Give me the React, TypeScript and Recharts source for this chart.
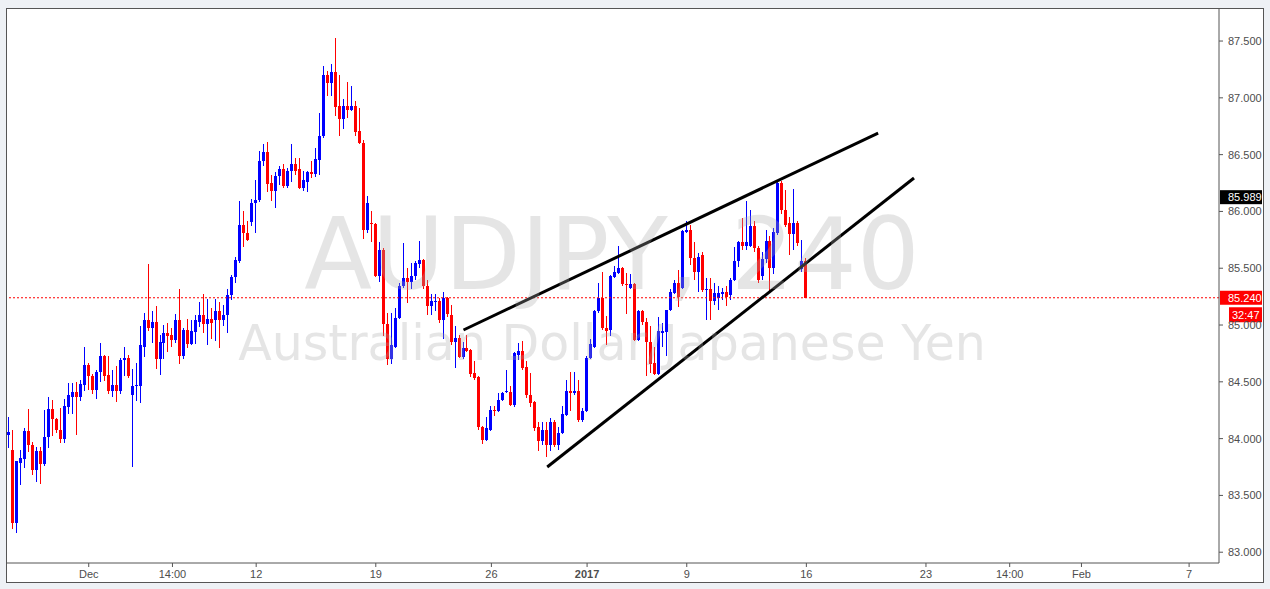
import React from 'react'
import { ComposedChart, Bar, XAxis, YAxis, ReferenceLine } from 'recharts'

// AUDJPY 4h candles, oldest first
const opens = [
  84.03, 83.90, 83.26, 83.785, 83.82, 84.07, 83.94, 83.72, 83.89, 83.78,
  84.01, 84.26, 84.17, 84.08, 84.00, 84.28, 84.37, 84.41, 84.37, 84.47,
  84.65, 84.55, 84.43, 84.59, 84.73, 84.56, 84.42, 84.47, 84.42, 84.69,
  84.71, 84.38, 84.46, 84.46, 84.81, 85.04, 84.97, 85.03, 84.70, 84.84,
  84.93, 84.91, 84.87, 85.04, 84.73, 84.96, 84.83, 84.94, 85.03, 85.09,
  85.01, 85.05, 85.04, 85.12, 85.04, 85.09, 85.26, 85.42, 85.56, 85.88,
  85.81, 85.91, 86.07, 86.10, 86.44, 86.52, 86.25, 86.18, 86.31, 86.37,
  86.22, 86.36, 86.42, 86.37, 86.21, 86.26, 86.35, 86.33, 86.45, 86.66,
  87.20, 87.13, 87.23, 86.93, 86.81, 86.93, 86.89, 86.93, 86.71, 86.60,
  85.84, 85.90, 85.89, 85.43, 85.66, 85.01, 84.70, 84.81, 85.06, 85.34,
  85.41, 85.38, 85.43, 85.54, 85.57, 85.34, 85.17, 85.20, 85.21, 85.04,
  85.24, 85.09, 84.85, 84.89, 84.72, 84.80, 84.78, 84.58, 84.54, 84.10,
  83.99, 84.08, 84.25, 84.24, 84.34, 84.41, 84.41, 84.30, 84.74, 84.77,
  84.63, 84.38, 84.32, 84.10, 83.98, 84.08, 83.94, 84.15, 83.94, 84.05,
  84.21, 84.42, 84.40, 84.42, 84.16, 84.24, 84.71, 84.81, 85.12, 85.24,
  84.97, 84.96, 85.42, 85.46, 85.50, 85.36, 85.33, 85.36, 84.87, 85.12,
  85.03, 84.85, 84.67, 84.57, 84.93, 84.94, 85.13, 85.28, 85.37, 85.33,
  85.82, 85.84, 85.59, 85.47, 85.62, 85.31, 85.32, 85.21, 85.24, 85.27,
  85.29, 85.26, 85.40, 85.56, 85.73, 85.70, 85.70, 85.87, 85.68, 85.43,
  85.58, 85.74, 85.50, 85.81, 86.25, 86.01, 85.90, 85.80, 85.90, 85.49,
  85.56,
]
const highs = [
  84.19, 84.08, 83.80, 83.90, 84.09, 84.26, 83.97, 83.93, 83.93, 84.25,
  84.37, 84.34, 84.18, 84.27, 84.35, 84.49, 84.49, 84.50, 84.52, 84.81,
  84.67, 84.57, 84.60, 84.84, 84.74, 84.73, 84.60, 84.64, 84.71, 84.81,
  84.74, 84.61, 84.67, 84.99, 85.11, 85.54, 85.12, 85.17, 84.91, 85.00,
  85.02, 84.97, 85.10, 85.32, 84.97, 85.05, 85.04, 85.09, 85.20, 85.27,
  85.23, 85.15, 85.23, 85.20, 85.18, 85.32, 85.44, 85.60, 86.09, 86.00,
  85.92, 86.11, 86.28, 86.53, 86.59, 86.61, 86.32, 86.35, 86.40, 86.42,
  86.38, 86.59, 86.47, 86.47, 86.36, 86.36, 86.44, 86.56, 86.87, 87.28,
  87.24, 87.30, 87.53, 87.20, 86.99, 87.14, 87.10, 86.97, 86.91, 86.63,
  86.14, 86.00, 85.90, 85.73, 85.68, 85.11, 85.11, 85.15, 85.37, 85.72,
  85.50, 85.55, 85.56, 85.74, 85.58, 85.40, 85.27, 85.27, 85.24, 85.29,
  85.25, 85.18, 84.99, 84.91, 84.85, 84.91, 84.79, 84.68, 84.55, 84.11,
  84.19, 84.29, 84.29, 84.40, 84.41, 84.60, 84.46, 84.76, 84.84, 84.86,
  84.68, 84.58, 84.33, 84.15, 84.15, 84.15, 84.18, 84.16, 84.10, 84.29,
  84.52, 84.59, 84.59, 84.52, 84.27, 84.73, 84.88, 85.13, 85.37, 85.47,
  85.08, 85.44, 85.52, 85.70, 85.51, 85.46, 85.45, 85.37, 85.13, 85.13,
  85.06, 84.99, 84.81, 85.07, 85.02, 85.13, 85.32, 85.40, 85.48, 85.84,
  85.92, 85.88, 85.73, 85.63, 85.64, 85.41, 85.41, 85.37, 85.34, 85.33,
  85.34, 85.41, 85.69, 85.74, 85.94, 86.09, 86.01, 85.92, 85.70, 85.64,
  85.84, 85.78, 85.85, 86.27, 86.27, 86.19, 85.95, 86.20, 85.92, 85.75,
  85.59,
]
const lows = [
  83.92, 83.20, 83.17, 83.59, 83.74, 83.88, 83.68, 83.62, 83.60, 83.76,
  83.92, 84.02, 84.05, 83.96, 83.96, 84.22, 84.22, 84.03, 84.33, 84.42,
  84.43, 84.39, 84.35, 84.50, 84.51, 84.39, 84.37, 84.32, 84.39, 84.55,
  84.53, 83.75, 84.33, 84.31, 84.72, 84.95, 84.84, 84.61, 84.56, 84.70,
  84.76, 84.81, 84.84, 84.66, 84.70, 84.80, 84.82, 84.83, 84.98, 84.93,
  84.82, 84.88, 84.86, 84.80, 84.99, 84.93, 85.22, 85.37, 85.55, 85.69,
  85.74, 85.87, 85.81, 86.08, 86.40, 86.17, 86.09, 86.03, 86.23, 86.21,
  86.21, 86.26, 86.32, 86.20, 86.18, 86.17, 86.29, 86.30, 86.32, 86.65,
  87.02, 87.02, 86.84, 86.66, 86.73, 86.82, 86.88, 86.66, 86.59, 85.76,
  85.81, 85.73, 85.42, 85.38, 84.90, 84.65, 84.66, 84.80, 85.05, 85.33,
  85.19, 85.32, 85.40, 85.50, 85.32, 85.09, 85.09, 85.12, 85.02, 84.88,
  85.07, 84.82, 84.62, 84.71, 84.70, 84.76, 84.54, 84.52, 84.08, 83.95,
  83.98, 84.07, 84.20, 84.23, 84.33, 84.40, 84.29, 84.28, 84.69, 84.60,
  84.36, 84.28, 84.07, 83.89, 83.94, 83.84, 83.89, 83.93, 83.90, 84.04,
  84.20, 84.24, 84.38, 84.15, 84.15, 84.23, 84.70, 84.80, 85.11, 84.96,
  84.82, 84.90, 85.41, 85.45, 85.34, 85.10, 85.32, 84.86, 84.86, 85.00,
  84.55, 84.58, 84.56, 84.56, 84.81, 84.73, 85.12, 85.27, 85.16, 85.32,
  85.81, 85.53, 85.40, 85.29, 85.29, 85.04, 85.04, 85.18, 85.13, 85.22,
  85.17, 85.22, 85.39, 85.51, 85.66, 85.66, 85.69, 85.64, 85.37, 85.40,
  85.55, 85.30, 85.45, 85.79, 85.98, 85.86, 85.62, 85.66, 85.70, 85.47,
  85.24,
]
const closes = [
  84.06, 83.26, 83.80, 83.83, 84.07, 83.94, 83.72, 83.89, 83.78, 84.01,
  84.26, 84.17, 84.08, 84.00, 84.29, 84.38, 84.41, 84.37, 84.48, 84.65,
  84.55, 84.43, 84.59, 84.73, 84.55, 84.42, 84.47, 84.42, 84.69, 84.71,
  84.55, 84.46, 84.47, 84.82, 85.04, 84.97, 85.03, 84.70, 84.85, 84.93,
  84.90, 84.87, 85.04, 84.73, 84.96, 84.83, 84.95, 85.04, 85.09, 85.01,
  85.05, 85.02, 85.12, 85.04, 85.09, 85.26, 85.42, 85.57, 85.88, 85.81,
  85.75, 86.07, 86.10, 86.44, 86.52, 86.24, 86.18, 86.31, 86.37, 86.22,
  86.36, 86.42, 86.36, 86.21, 86.28, 86.35, 86.33, 86.46, 86.66, 87.20,
  87.13, 87.23, 86.92, 86.81, 86.93, 86.89, 86.93, 86.70, 86.60, 85.84,
  86.07, 85.89, 85.43, 85.66, 85.01, 84.70, 84.82, 85.06, 85.34, 85.41,
  85.38, 85.43, 85.55, 85.57, 85.34, 85.17, 85.21, 85.21, 85.04, 85.24,
  85.10, 84.85, 84.89, 84.72, 84.80, 84.77, 84.57, 84.53, 84.10, 83.99,
  84.09, 84.25, 84.24, 84.34, 84.40, 84.42, 84.30, 84.75, 84.77, 84.62,
  84.38, 84.31, 84.09, 83.98, 84.08, 83.94, 84.15, 83.94, 84.05, 84.22,
  84.42, 84.40, 84.42, 84.16, 84.24, 84.71, 84.83, 85.12, 85.24, 84.97,
  84.95, 85.43, 85.47, 85.50, 85.36, 85.35, 85.36, 84.87, 85.12, 85.03,
  84.85, 84.66, 84.57, 84.95, 84.95, 85.13, 85.29, 85.37, 85.25, 85.83,
  85.84, 85.59, 85.47, 85.60, 85.31, 85.32, 85.21, 85.28, 85.28, 85.29,
  85.25, 85.40, 85.56, 85.73, 85.70, 85.73, 85.87, 85.68, 85.40, 85.58,
  85.74, 85.50, 85.82, 86.25, 86.01, 85.88, 85.80, 85.90, 85.72, 85.56,
  85.24,
]

// empty slots on the right side of the time axis
const futureSlots = 103

const timeTicks = [20, 41, 62, 92, 121, 145, 170, 200, 230, 251, 269, 296]
const timeLabels = ['Dec', '14:00', '12', '19', '26', '2017', '9', '16', '23', '14:00', 'Feb', '7']
const boldLabels = ['2017']

const priceTicks = [83, 83.5, 84, 84.5, 85, 85.5, 86, 86.5, 87, 87.5]

const lastPrice = 85.24
const countdown = '32:47'
const markerPrice = 85.989

const upperTrend = [{ x: 114, y: 84.956 }, { x: 218, y: 86.69 }]
const lowerTrend = [{ x: 135, y: 83.75 }, { x: 227, y: 86.294 }]

const symbolText = 'AUDJPY, 240'
const symbolName = 'Australian Dollar/Japanese Yen'

const UP = '#0000ff'
const DOWN = '#ff0000'
const AXIS = '#555555'
const TEXT = '#4d4d4d'
const FONT = "'Liberation Sans', Arial, sans-serif"

const data = Array.from({ length: opens.length + futureSlots }, (_, i) =>
  i < opens.length
    ? { t: i, open: opens[i], high: highs[i], low: lows[i], close: closes[i], range: [lows[i], highs[i]] }
    : { t: i, open: null, high: null, low: null, close: null, range: null }
)

const tickLabel: Record<number, string> = {}
timeTicks.forEach((t, i) => { tickLabel[t] = timeLabels[i] })

function Candle(props: any) {
  const { x, y, width, height, payload } = props
  if (!payload || payload.open == null || !height) return <g />
  const { open, close, high, low } = payload
  const top = Math.min(y, y + height)
  const h = Math.abs(height)
  const py = (v: number) => top + ((high - v) / (high - low)) * h
  const color = close >= open ? UP : DOWN
  const cx = x + width / 2
  const bodyTop = py(Math.max(open, close))
  const bodyH = Math.max(1, py(Math.min(open, close)) - bodyTop)
  return (
    <g shapeRendering="crispEdges">
      <rect x={Math.floor(cx)} y={top} width={1} height={h} fill={color} />
      <rect x={Math.round(cx - 1.5)} y={bodyTop} width={3} height={bodyH} fill={color} />
    </g>
  )
}

function TimeTick(props: any) {
  const { x, y, payload } = props
  const label = tickLabel[payload.value] ?? ''
  return (
    <text x={x} y={y} dy="0.71em" textAnchor="middle" fontSize={11} fontFamily={FONT}
      fill={TEXT} fontWeight={boldLabels.includes(label) ? 'bold' : 'normal'}>
      {label}
    </text>
  )
}

function PriceTag({ viewBox, text, bg, dy = 0, left = 1, width = 42, height = 14, textX = 8 }: any) {
  if (!viewBox) return null
  const x = viewBox.x + viewBox.width + left
  const y = viewBox.y + dy
  return (
    <g>
      <rect x={x} y={y - height / 2} width={width} height={height} fill={bg} />
      <text x={x + textX} y={y} dy="0.36em" fontSize={11} fontFamily={FONT} fill="#ffffff">{text}</text>
    </g>
  )
}

export default function App() {
  return (
    <div style={{ position: 'fixed', inset: 0, background: '#eef1f5' }}>
      <div style={{
        position: 'absolute', left: 6, top: 8, width: 1256, height: 573,
        border: `1px solid ${AXIS}`, background: '#ffffff',
      }}>
        <ComposedChart width={1256} height={573} data={data}
          margin={{ top: 0, right: 0, left: 0, bottom: 0 }} barCategoryGap={0}>
          <XAxis dataKey="t" type="category" ticks={timeTicks} interval={0} height={19}
            tickSize={4} tickMargin={3} stroke={AXIS} tick={<TimeTick />} />
          <YAxis orientation="right" type="number" domain={[82.905, 87.782]} allowDataOverflow
            ticks={priceTicks} width={44} tickSize={4} tickMargin={5} stroke={AXIS}
            tickFormatter={(v: number) => v.toFixed(3)}
            tick={{ fontSize: 11, fill: TEXT, fontFamily: FONT }} />
          <Bar dataKey="range" barSize={3} shape={<Candle />} isAnimationActive={false} />
          <ReferenceLine y={lastPrice} stroke={DOWN} strokeDasharray="2 2"
            label={(p: any) => (
              <g>
                <PriceTag {...p} text={lastPrice.toFixed(3)} bg={DOWN} />
                <PriceTag {...p} text={countdown} bg={DOWN} dy={17} left={10} width={33} height={15} textX={3} />
              </g>
            )} />
          <ReferenceLine y={markerPrice} stroke="none"
            label={(p: any) => <PriceTag {...p} text={markerPrice.toFixed(3)} bg="#000000" dy={-15.5} />} />
          <ReferenceLine segment={upperTrend} stroke="#000000" strokeWidth={3} ifOverflow="visible" />
          <ReferenceLine segment={lowerTrend} stroke="#000000" strokeWidth={3} ifOverflow="visible" />
        </ComposedChart>
        <svg width={1256} height={573} style={{ position: 'absolute', left: 0, top: 0, pointerEvents: 'none' }}>
          <g fill="rgb(170,170,170)" fillOpacity={0.3} fontFamily="'DejaVu Sans', sans-serif" textAnchor="middle">
            <text x={605} y={280} fontSize={99}>{symbolText}</text>
            <text x={605} y={351} fontSize={49}>{symbolName}</text>
          </g>
        </svg>
      </div>
    </div>
  )
}
